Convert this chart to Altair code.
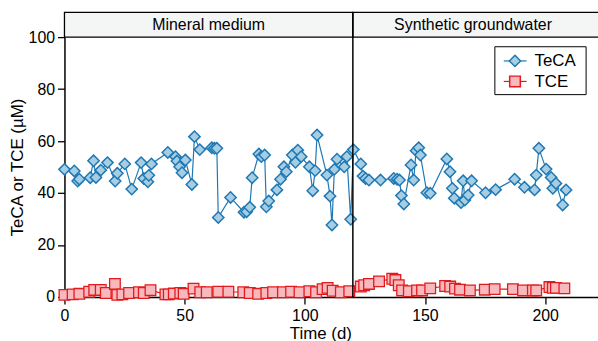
import altair as alt
import pandas as pd

# ---- data ----
teca_day = [0, 4.1, 5.5, 6.2, 10.7, 12.1, 13.1, 15.1, 17.9, 21.1, 22, 25.1, 28, 31.9, 33, 34.7,
            35.1, 36.2, 43, 46.2, 46.8, 47.9, 48.9, 50.3, 53, 54.1, 56.3, 61.3, 62.4, 63.4, 64,
            69.1, 74.7, 75.8, 77.1, 78.1, 80.9, 81.9, 83.3, 84, 85, 88.4, 89.9, 91.3, 92.3, 94.8,
            96.1, 97.1, 98.5, 101.9, 103.3, 104.3, 105.1, 109.2, 110.5, 111.3, 112.3, 113.4,
            116.4, 117.5, 119.1, 120.2, 123.3, 124.2, 125.3, 126.7, 131.5, 137, 138.4, 139.4,
            140.2, 141.2, 144.2, 145.3, 146.3, 147.4, 148.1, 150.8, 152.2, 159.1, 160.4, 161.4,
            162.2, 165, 165.9, 166.6, 168, 169.4, 175.2, 179.4, 187.3, 191.4, 195.6, 196.3,
            197.4, 200.4, 202.5, 203.2, 204.5, 207.3, 208.7]
teca_val = [49.1, 48.5, 44.6, 45.3, 45.9, 52.4, 46, 48.8, 51.7, 44.6, 47.6, 51.2, 41.5, 51.7, 45.6,
            44.3, 46.8, 51.2, 55.6, 54, 52.3, 50.1, 47.8, 52.7, 43.3, 61.7, 56.7, 57.4, 57.2, 57.2,
            30.6, 38.3, 32.6, 32.8, 34.5, 45.9, 55, 54, 54.6, 34.7, 36.9, 41.2, 45.3, 50.1, 48.2,
            54.6, 51.8, 56.5, 54, 50.1, 40.9, 48.6, 62.3, 46.9, 38.8, 27.7, 49.1, 53, 50.1, 54,
            29.9, 56.7, 51.2, 46.5, 45.6, 45, 45, 45.6, 45.3, 45, 39, 35.8, 50.8, 45, 56.3, 57.4,
            54.6, 40.1, 39.9, 53.1, 48.2, 41.8, 38, 36.3, 44.7, 37.3, 39.2, 44.7, 40.1, 41.3,
            45.3, 42.2, 41.2, 46.9, 57.2, 49.2, 46, 41.8, 43.7, 35.4, 41.2]

tce_day = [0, 3.4, 6.2, 10.3, 12.4, 15.1, 17.2, 21, 22, 24.1, 26.9, 31, 33, 35.8, 42, 43.4, 45.5,
           48.2, 49.6, 53.7, 56.5, 59.2, 64, 68.2, 74.4, 77.1, 80.6, 84, 86.8, 90.9, 94.3, 97.8,
           101.9, 104.7, 107.4, 109.5, 111.6, 115, 118.5, 123.3, 124.7, 126.7, 130.9, 136.4,
           137.7, 139.1, 140.5, 143.3, 146.7, 148.8, 152.2, 158.4, 160.5, 162.5, 164.6, 168.7,
           174.9, 179, 186.6, 190.8, 194.9, 196.3, 201.8, 203.2, 204.5, 208]
tce_val = [0.8, 1, 1.2, 2, 2.7, 2.7, 1.5, 5, 0.8, 1, 1.5, 1.8, 1.5, 2.6, 1, 1, 1.3, 1.5, 1.2, 3.2,
           1.8, 1.8, 2, 2, 1.8, 1.5, 1.2, 1.5, 1.8, 1.8, 2, 1.8, 2.2, 1.8, 3, 3.5, 2.4, 1.8, 2.2,
           4, 4.5, 5, 6, 7, 6.5, 4.5, 2.5, 2.2, 2.5, 2.5, 3.3, 4.2, 4, 3.2, 2.8, 2.5, 2.8, 3, 3,
           2.5, 2.5, 2.5, 3.8, 3.5, 3.5, 3.3]

series_names = ["TeCA", "TCE"]
strip_labels = ["Mineral medium", "Synthetic groundwater"]
strip_start = [0, 120]
strip_end = [120, 240]
strip_mid = [60, 170]
x_ticks = [0, 50, 100, 150, 200]
y_ticks = [0, 20, 40, 60, 80, 100]

FONT = "Liberation Sans"
TECA_FILL, TECA_STROKE = "#a6cee3", "#1f78b4"
TCE_FILL, TCE_STROKE = "#f7b9bd", "#e31a1c"

W, H = 538, 262

teca = pd.DataFrame({"day": teca_day, "val": teca_val})
tce = pd.DataFrame({"day": tce_day, "val": tce_val})
strips = pd.DataFrame({"x0": strip_start, "x1": strip_end, "mid": strip_mid, "label": strip_labels})
one = pd.DataFrame({"a": [0]})

xs = alt.Scale(domain=[0, 222], nice=False, zero=False)
ys = alt.Scale(domain=[0, 100], nice=False)

x_axis = alt.Axis(values=x_ticks, title="Time (d)", grid=False, titleX=258, titleY=42,
                  titleBaseline="alphabetic", titleAnchor="start", titleAlign="center",
                  labelFlush=False, labelPadding=4)
y_axis = alt.Axis(values=y_ticks, title="TeCA or TCE (µM)", grid=False, titleX=-42,
                  titleY=131, titleAngle=-90, titleBaseline="alphabetic",
                  titleAlign="center", titleAnchor="start", labelFlush=False)

teca_line = alt.Chart(teca).mark_line(color=TECA_STROKE, strokeWidth=1.2).encode(
    x=alt.X("day:Q", scale=xs, axis=x_axis), y=alt.Y("val:Q", scale=ys, axis=y_axis))
teca_pts = alt.Chart(teca).mark_point(shape="diamond", filled=True, size=130, fill=TECA_FILL,
                                      stroke=TECA_STROKE, strokeWidth=1.5, opacity=1).encode(
    x=alt.X("day:Q", scale=xs), y=alt.Y("val:Q", scale=ys))
tce_line = alt.Chart(tce).mark_line(color=TCE_STROKE, strokeWidth=1.2).encode(
    x=alt.X("day:Q", scale=xs), y=alt.Y("val:Q", scale=ys))
tce_pts = alt.Chart(tce).mark_point(shape="square", filled=True, size=115, fill=TCE_FILL,
                                    stroke=TCE_STROKE, strokeWidth=1.3, opacity=1).encode(
    x=alt.X("day:Q", scale=xs), y=alt.Y("val:Q", scale=ys))

strip_rect = alt.Chart(strips).mark_rect(fill="#f4f5f5", stroke="black", strokeWidth=1.3,
                                         clip=False).encode(
    x=alt.X("x0:Q", scale=xs), x2="x1:Q", y=alt.value(-25), y2=alt.value(0))
strip_text = alt.Chart(strips).mark_text(fontSize=16, font=FONT, color="black",
                                         baseline="middle", align="center").encode(
    x=alt.X("mid:Q", scale=xs), y=alt.value(-12.5), text="label:N")
divider = alt.Chart(pd.DataFrame({"d": [strip_start[1]]})).mark_rule(
    color="black", strokeWidth=1.5).encode(
    x=alt.X("d:Q", scale=xs), y=alt.value(-25), y2=alt.value(H))

# manual legend
leg_box = alt.Chart(one).mark_rect(fill="white", stroke="black", strokeWidth=1).encode(
    x=alt.value(434), x2=alt.value(526), y=alt.value(9.7), y2=alt.value(58))
leg_layers = [leg_box]
for name, yy, shp, fill, stroke, sz in [(series_names[0], 24, "diamond", TECA_FILL, TECA_STROKE, 130),
                                         (series_names[1], 44.7, "square", TCE_FILL, TCE_STROKE, 115)]:
    leg_layers.append(alt.Chart(one).mark_rule(color=stroke, strokeWidth=1.2).encode(
        x=alt.value(443), x2=alt.value(466), y=alt.value(yy)))
    leg_layers.append(alt.Chart(one).mark_point(shape=shp, filled=True, size=sz, fill=fill,
                                                stroke=stroke, strokeWidth=1.5, opacity=1).encode(
        x=alt.value(454.3), y=alt.value(yy)))
    leg_layers.append(alt.Chart(one).mark_text(align="left", baseline="middle", fontSize=17,
                                               font=FONT, color="black").encode(
        x=alt.value(474), y=alt.value(yy + 0.5), text=alt.value(name)))

chart = alt.layer(strip_rect, strip_text, teca_line, teca_pts, tce_line, tce_pts, divider,
                  *leg_layers).properties(
    width=W, height=H,
    autosize=alt.AutoSizeParams(type="none"),
    padding={"left": 65, "top": 36, "right": 0, "bottom": 43},
).configure(
    font=FONT,
    view=alt.ViewConfig(stroke=None),
    axis=alt.AxisConfig(
        domainColor="black", domainWidth=1.5, tickColor="black", tickWidth=1.3, tickSize=7,
        labelFont=FONT, labelFontSize=16, labelColor="black", labelPadding=3,
        titleFont=FONT, titleFontSize=17, titleColor="black", titleFontWeight="normal"),
)

chart.save("out.html", embed_options={"renderer": "svg", "actions": False})
